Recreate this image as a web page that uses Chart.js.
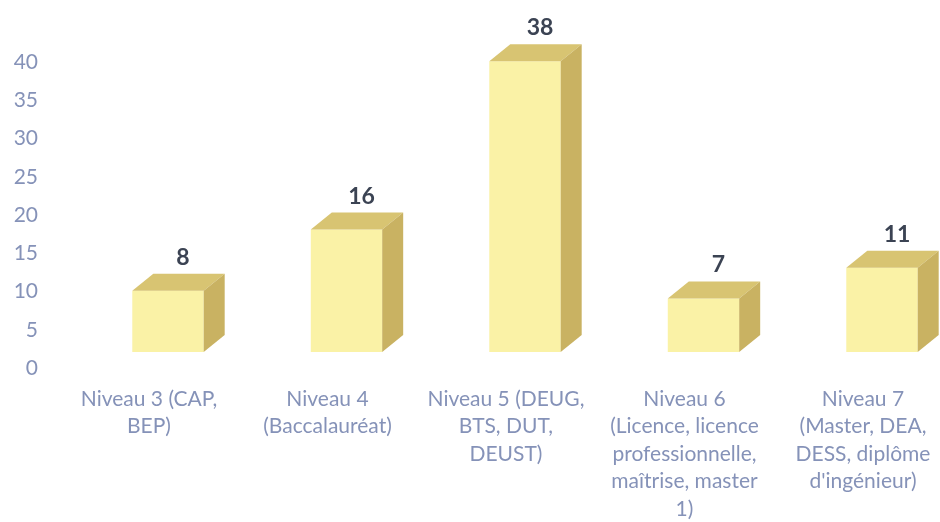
<!DOCTYPE html>
<html>
<head>
<meta charset="utf-8">
<script src="https://cdn.jsdelivr.net/npm/chart.js@4"></script>
<style>
  body { margin: 0; background: #fff; }
  canvas { display: block; }
</style>
</head>
<body>
<canvas id="niveauChart" width="940" height="522"></canvas>
<script>
// Données du graphique
const categories = [
  ["Niveau 3 (CAP,", "BEP)"],
  ["Niveau 4", "(Baccalauréat)"],
  ["Niveau 5 (DEUG,", "BTS, DUT,", "DEUST)"],
  ["Niveau 6", "(Licence, licence", "professionnelle,", "maîtrise, master", "1)"],
  ["Niveau 7", "(Master, DEA,", "DESS, diplôme", "d'ingénieur)"],
];
const effectifs = [8, 16, 38, 7, 11];
const yMin = 0;
const yMax = 40;
const yStep = 5;

// Effet 3D (profondeur des barres)
const depthX = 21;
const depthY = 17;

const bar3d = {
  id: "bar3d",
  afterDatasetsDraw(chart) {
    const ctx = chart.ctx;
    const meta = chart.getDatasetMeta(0);
    ctx.save();
    meta.data.forEach(function (bar, i) {
      const left = bar.x - bar.width / 2;
      const right = bar.x + bar.width / 2;
      const top = bar.y;
      const bottom = bar.base;

      // face du dessus
      ctx.fillStyle = "#d8c472";
      ctx.beginPath();
      ctx.moveTo(left, top);
      ctx.lineTo(right, top);
      ctx.lineTo(right + depthX, top - depthY);
      ctx.lineTo(left + depthX, top - depthY);
      ctx.closePath();
      ctx.fill();

      // face de côté
      ctx.fillStyle = "#c9b262";
      ctx.beginPath();
      ctx.moveTo(right, top);
      ctx.lineTo(right + depthX, top - depthY);
      ctx.lineTo(right + depthX, bottom - depthY);
      ctx.lineTo(right, bottom);
      ctx.closePath();
      ctx.fill();

      // étiquette de valeur
      ctx.fillStyle = "#3b4353";
      ctx.font = "bold 23px Lato";
      ctx.textAlign = "center";
      ctx.textBaseline = "alphabetic";
      ctx.fillText(String(effectifs[i]), bar.x + 15, top - depthY - 9);
    });
    ctx.restore();
  },
};

const ctx = document.getElementById("niveauChart").getContext("2d");
new Chart(ctx, {
  type: "bar",
  data: {
    datasets: [
      {
        data: effectifs.map(function (v, i) { return { x: i, y: v }; }),
        backgroundColor: "#faf2a6",
        borderWidth: 0,
        barPercentage: 0.4,
        categoryPercentage: 1,
        yAxisID: "yBar",
        clip: false,
      },
    ],
  },
  options: {
    responsive: false,
    animation: false,
    layout: { padding: { top: 62, right: 10, bottom: 0, left: 0 } },
    plugins: { legend: { display: false }, tooltip: { enabled: false } },
    scales: {
      x: {
        type: "linear",
        offset: false,
        min: -0.661,
        max: 4.269,
        grid: { display: false },
        border: { display: false },
        afterBuildTicks: function (scale) {
          scale.ticks = categories.map(function (c, i) { return { value: i }; });
        },
        afterFit: function (scale) {
          scale.height = 154;
          scale.paddingLeft = 0;
          scale.paddingRight = 0;
        },
        ticks: {
          autoSkip: false,
          maxRotation: 0,
          padding: 9,
          labelOffset: -19,
          color: "#8592b8",
          font: { family: "Lato", size: 21, lineHeight: "27.5px" },
          callback: function (value) { return categories[value]; },
        },
      },
      y: {
        min: yMin,
        max: yMax,
        grid: { display: false },
        border: { display: false },
        afterFit: function (scale) { scale.width = 50; },
        ticks: {
          stepSize: yStep,
          padding: 4,
          color: "#8592b8",
          font: { family: "Lato", size: 21 },
        },
      },
      // axe caché : le sol 3D est légèrement au-dessus de la ligne 0
      yBar: {
        display: false,
        min: yMin - 2.09,
        max: yMax - 2.09,
      },
    },
  },
  plugins: [bar3d],
});
</script>
</body>
</html>
